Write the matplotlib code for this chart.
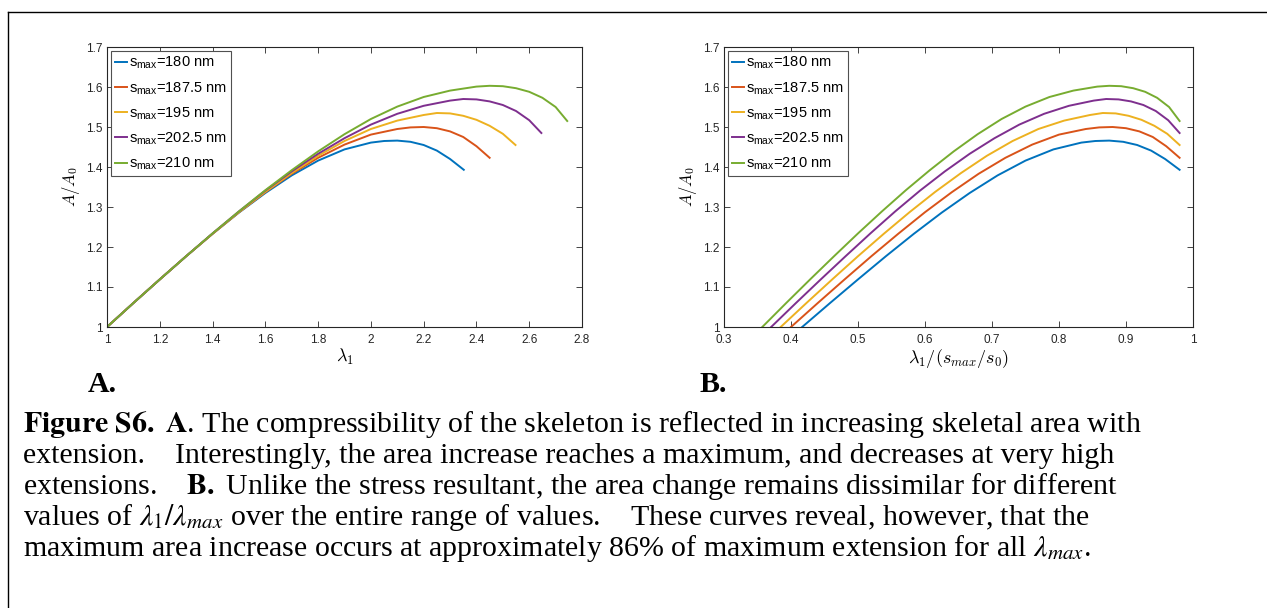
import matplotlib
matplotlib.use("Agg")
import matplotlib.pyplot as plt
from matplotlib.lines import Line2D

plt.rcParams['font.family'] = ['Liberation Sans', 'DejaVu Sans']
plt.rcParams['mathtext.fontset'] = 'custom'
plt.rcParams['mathtext.rm'] = 'Liberation Sans'
plt.rcParams['mathtext.it'] = 'Liberation Sans:italic'

# data (A/A0 vs lambda_1)
s_max = [180, 187.5, 195, 202.5, 210]
s0 = 75.0
labels = ['180', '187.5', '195', '202.5', '210']
colors = ['#0072BD', '#D95319', '#EDB120', '#7E2F8E', '#77AC30']

base_lam = [1.0, 1.1, 1.2, 1.3, 1.4, 1.5, 1.6, 1.7, 1.8, 1.9, 2.0]

lam_180 = base_lam + [2.05, 2.1, 2.15, 2.2, 2.25, 2.3, 2.352]
a_180 = [1.0, 1.060, 1.119, 1.177, 1.233, 1.286, 1.335, 1.379, 1.416, 1.444, 1.461,
         1.465, 1.466, 1.463, 1.455, 1.441, 1.420, 1.393]

lam_187 = base_lam + [2.1, 2.15, 2.2, 2.25, 2.3, 2.35, 2.4, 2.45]
a_187 = [1.0, 1.060, 1.119, 1.177, 1.233, 1.287, 1.337, 1.383, 1.423, 1.456, 1.481,
         1.495, 1.499, 1.500, 1.497, 1.489, 1.475, 1.452, 1.423]

lam_195 = base_lam + [2.1, 2.2, 2.25, 2.3, 2.35, 2.4, 2.45, 2.5, 2.548]
a_195 = [1.0, 1.060, 1.119, 1.177, 1.233, 1.287, 1.338, 1.385, 1.428, 1.465, 1.495,
         1.516, 1.530, 1.535, 1.534, 1.528, 1.518, 1.503, 1.483, 1.455]

lam_202 = base_lam + [2.1, 2.2, 2.3, 2.35, 2.4, 2.45, 2.5, 2.55, 2.6, 2.646]
a_202 = [1.0, 1.060, 1.119, 1.177, 1.234, 1.289, 1.341, 1.389, 1.433, 1.472, 1.506,
         1.533, 1.553, 1.566, 1.570, 1.569, 1.564, 1.555, 1.540, 1.517, 1.485]

lam_210 = base_lam + [2.1, 2.2, 2.3, 2.4, 2.45, 2.5, 2.55, 2.6, 2.65, 2.7, 2.744]
a_210 = [1.0, 1.060, 1.119, 1.177, 1.234, 1.289, 1.342, 1.392, 1.439, 1.482, 1.520,
         1.551, 1.575, 1.591, 1.601, 1.603, 1.602, 1.597, 1.588, 1.573, 1.550, 1.515]

lams = [lam_180, lam_187, lam_195, lam_202, lam_210]
areas = [a_180, a_187, a_195, a_202, a_210]

W, H = 1267, 608
fig = plt.figure(figsize=(W / 100, H / 100), dpi=100)

axA = fig.add_axes([107 / W, 1 - 327 / H, 475 / W, 280 / H])
axB = fig.add_axes([724 / W, 1 - 327 / H, 469 / W, 280 / H])

for lam, a, sm, lab, c in zip(lams, areas, s_max, labels, colors):
    lab_txt = r's$_{\mathrm{max}}$=' + lab + ' nm'
    axA.plot(lam, a, color=c, lw=1.4, label=lab_txt)
    lmax = sm / s0
    axB.plot([v / lmax for v in lam], a, color=c, lw=1.4, label=lab_txt)

yt = [1, 1.1, 1.2, 1.3, 1.4, 1.5, 1.6, 1.7]
ytl = ['1', '1.1', '1.2', '1.3', '1.4', '1.5', '1.6', '1.7']
xtA = [1, 1.2, 1.4, 1.6, 1.8, 2, 2.2, 2.4, 2.6, 2.8]
xtA_l = ['1', '1.2', '1.4', '1.6', '1.8', '2', '2.2', '2.4', '2.6', '2.8']
xtB = [0.3, 0.4, 0.5, 0.6, 0.7, 0.8, 0.9, 1.0]
xtB_l = ['0.3', '0.4', '0.5', '0.6', '0.7', '0.8', '0.9', '1']

for ax, xt, xtl, xlim in [(axA, xtA, xtA_l, (1, 2.8)), (axB, xtB, xtB_l, (0.3, 1.0))]:
    ax.set_xlim(*xlim)
    ax.set_ylim(1, 1.7)
    ax.set_xticks(xt)
    ax.set_xticklabels(xtl)
    ax.set_yticks(yt)
    ax.set_yticklabels(ytl)
    ax.tick_params(direction='in', top=True, right=True, length=4, width=0.6,
                   labelsize=8.5, colors='#262626')
    ax.tick_params(axis='x', pad=5)
    ax.tick_params(axis='y', pad=3)
    for sp in ax.spines.values():
        sp.set_color('#262626')
        sp.set_linewidth(0.8)
    ax.set_ylabel(r'$A/A_0$', math_fontfamily='cm', fontsize=12, labelpad=3)
    leg = ax.legend(loc='upper left', fontsize=10.5, fancybox=False, framealpha=1,
                    edgecolor='#505050', handlelength=0.85, handletextpad=0.1,
                    borderpad=0.3, labelspacing=0.6, borderaxespad=0.25)
    leg.get_frame().set_linewidth(0.8)

axA.set_xlabel(r'$\lambda_1$', math_fontfamily='cm', fontsize=13, labelpad=1)
axB.set_xlabel(r'$\lambda_1/(s_{max}/s_0)$', math_fontfamily='cm', fontsize=13, labelpad=1)

# panel letters
fig.text(88 / W, 1 - 392 / H, 'A.', family='Liberation Serif', fontweight='bold', fontsize=21.5)
fig.text(700 / W, 1 - 392 / H, 'B.', family='Liberation Serif', fontweight='bold', fontsize=21.5)

caption = [
    r'$\mathbf{Figure\ S6.\ A}$. The compressibility of the skeleton is reflected in increasing skeletal area with',
    'extension.    Interestingly, the area increase reaches a maximum, and decreases at very high',
    r'extensions.    $\mathbf{B.}$ Unlike the stress resultant, the area change remains dissimilar for different',
    r'values of $\lambda_1/\lambda_{max}$ over the entire range of values.    These curves reveal, however, that the',
    r'maximum area increase occurs at approximately 86% of maximum extension for all $\lambda_{max}$.',
]
for i, line in enumerate(caption):
    fig.text(23 / W, 1 - (432 + 31 * i) / H, line, family='Liberation Serif',
             math_fontfamily='stix', fontsize=21.5, va='baseline')

# outer frame
fig.add_artist(Line2D([8 / W, 8 / W], [0, 1 - 12 / H], color='black', lw=1.0, transform=fig.transFigure))
fig.add_artist(Line2D([8 / W, 1], [1 - 12 / H, 1 - 12 / H], color='black', lw=1.0, transform=fig.transFigure))

fig.savefig('out.png', dpi=100)
